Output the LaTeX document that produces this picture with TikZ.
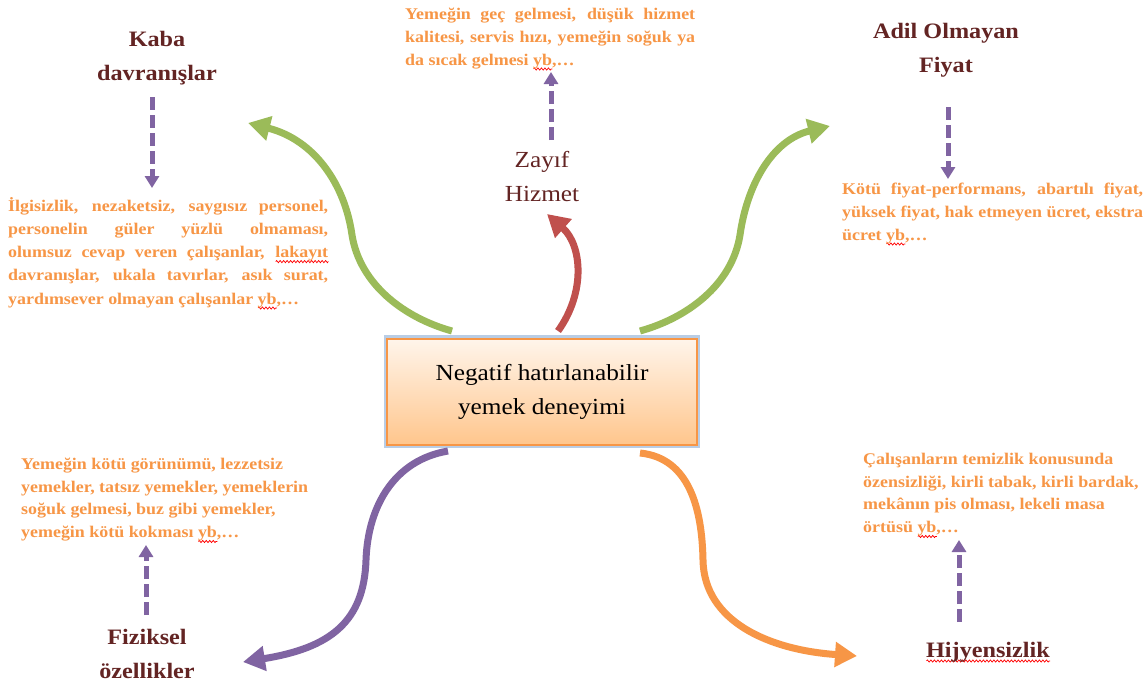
\documentclass[tikz,border=0pt]{standalone}
\usepackage{fontspec}
\setmainfont{Liberation Serif}[FakeStretch=1.1]
\usetikzlibrary{arrows.meta,decorations.pathmorphing}
\definecolor{ttl}{HTML}{632423}
\definecolor{otx}{HTML}{F79646}
\definecolor{grn}{HTML}{9BBB59}
\definecolor{rdc}{HTML}{C0504D}
\definecolor{pur}{HTML}{8064A2}
\definecolor{org}{HTML}{F79646}
\definecolor{glow}{HTML}{B9CDE5}
\newcommand\sqw[1]{\setbox0\hbox{#1}\rlap{\tikz[baseline=0pt]\draw[red,line width=0.7pt,decorate,decoration={zigzag,amplitude=1.1pt,segment length=3.5pt}] (0pt,-4pt) -- (\the\wd0,-4pt);}\box0}
\tikzset{
  ttlnode/.style={font=\fontsize{22}{34}\selectfont\bfseries, text=ttl, align=center, inner sep=0, anchor=base},
  ttlreg/.style={font=\fontsize{23}{34}\selectfont, text=ttl, align=center, inner sep=0, anchor=base},
  desc/.style={font=\fontsize{16.3}{22.6}\selectfont\bfseries, text=otx, align=left, inner sep=0, anchor=base west},
  bigarrow/.style={line width=7pt, -{Triangle[length=22pt,width=24pt]}},
  dasharrow/.style={pur, line width=5pt, dash pattern=on 13pt off 5pt, -{Triangle[length=12pt,width=14pt]}},
  centerbox/.style={draw=org, line width=1.2pt, top color=orange!8!white, bottom color=orange!45!white,
     minimum width=310pt, minimum height=106pt, align=center, inner sep=0,
     font=\fontsize{23}{34}\selectfont, text=black},
}
\begin{document}
\begin{tikzpicture}[x=1pt,y=-1pt]
\useasboundingbox (0,0) rectangle (1148,688);
\fill[white] (0,0) rectangle (1148,688);

% central box
\fill[glow] (384,335) rectangle (700,448);
\node[centerbox] (center) at (542,392) {Negatif hatırlanabilir\\yemek deneyimi};

% titles (anchor = baseline of last line)
\node[ttlnode] (kaba) at (157,80) {Kaba\\davranışlar};
\node[ttlreg] (zayif) at (542,201) {Zayıf\\Hizmet};
\node[ttlnode] (adil) at (946,72) {Adil Olmayan\\Fiyat};
\node[ttlnode] (fizik) at (147,678) {Fiziksel\\özellikler};
\node[ttlnode] (hijyen) at (988,657) {\sqw{Hijyensizlik}};

% descriptions (anchor = baseline of last line)
\node[desc, font=\fontsize{16.3}{23.2}\selectfont\bfseries] (kabatxt) at (8,304) {%
\makebox[320pt][s]{İlgisizlik, nezaketsiz, saygısız personel,}\\
\makebox[320pt][s]{personelin güler yüzlü olmaması,}\\
\makebox[320pt][s]{olumsuz cevap veren çalışanlar, \sqw{lakayıt}}\\
\makebox[320pt][s]{davranışlar, ukala tavırlar, asık surat,}\\
yardımsever olmayan çalışanlar \sqw{yb},…};

\node[desc] (zayiftxt) at (405,65) {%
\makebox[290pt][s]{Yemeğin geç gelmesi, düşük hizmet}\\
\makebox[290pt][s]{kalitesi, servis hızı, yemeğin soğuk ya}\\
da sıcak gelmesi \sqw{yb},…};

\node[desc] (adiltxt) at (842,240) {%
\makebox[301pt][s]{Kötü fiyat-performans, abartılı fiyat,}\\
\makebox[301pt][s]{yüksek fiyat, hak etmeyen ücret, ekstra}\\
ücret \sqw{yb},…};

\node[desc] (fiziktxt) at (21,537.5) {%
Yemeğin kötü görünümü, lezzetsiz\\
yemekler, tatsız yemekler, yemeklerin\\
soğuk gelmesi, buz gibi yemekler,\\
yemeğin kötü kokması \sqw{yb},…};

\node[desc] (hijyentxt) at (863,532.5) {%
Çalışanların temizlik konusunda\\
özensizliği, kirli tabak, kirli bardak,\\
mekânın pis olması, lekeli masa\\
örtüsü \sqw{yb},…};

% arrow end points
\coordinate (gL0) at (452,331);
\coordinate (gL1) at (248,123);
\coordinate (gR0) at (640,331);
\coordinate (gR1) at (830,126);
\coordinate (rd0) at (558,331);
\coordinate (rd1) at (547,214);
\coordinate (pu0) at (448,451);
\coordinate (pu1) at (243,662);
\coordinate (or0) at (640,453);
\coordinate (or1) at (857,656);

\draw[bigarrow, grn] (gL0) .. controls (405,318) and (360,285) .. (352,235) .. controls (345,185) and (315,140) .. (gL1);
\draw[bigarrow, grn] (gR0) .. controls (687,318) and (732,285) .. (740,235) .. controls (747,185) and (772,140) .. (gR1);
\draw[bigarrow, rdc] (rd0) .. controls (586,292) and (582,245) .. (rd1);
\draw[bigarrow, pur] (pu0) .. controls (395,460) and (368,505) .. (366,560) .. controls (364,622) and (330,648) .. (pu1);
\draw[bigarrow, org] (or0) .. controls (690,458) and (702,510) .. (703,560) .. controls (704,622) and (770,650) .. (or1);

% dashed arrows
\coordinate (kd0) at (152,97);  \coordinate (kd1) at (152,188);
\coordinate (zd0) at (551,140); \coordinate (zd1) at (551,72);
\coordinate (ad0) at (948,107); \coordinate (ad1) at (948,179);
\coordinate (fd0) at (146,615); \coordinate (fd1) at (146,545);
\coordinate (hd0) at (959,622); \coordinate (hd1) at (959,540);
\draw[dasharrow] (kd0) -- (kd1);
\draw[dasharrow] (zd0) -- (zd1);
\draw[dasharrow] (ad0) -- (ad1);
\draw[dasharrow] (fd0) -- (fd1);
\draw[dasharrow] (hd0) -- (hd1);
\end{tikzpicture}
\end{document}
